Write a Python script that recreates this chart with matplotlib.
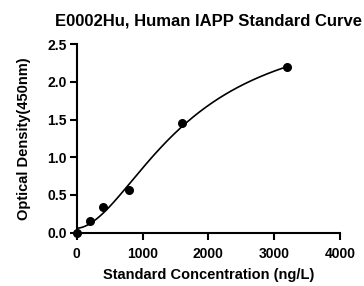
import numpy as np
import matplotlib.pyplot as plt

plt.rcParams['font.family'] = ['Liberation Sans', 'DejaVu Sans']
plt.rcParams['font.weight'] = 'bold'

# standard points
conc = np.array([0, 200, 400, 800, 1600, 3200])
od = np.array([0.00, 0.155, 0.336, 0.56, 1.45, 2.19])

# 4PL fit: grid over B and C, A/D by linear least squares
best = None
for B in np.linspace(1.0, 4.0, 121):
    for C in np.linspace(500, 5000, 181):
        g = 1.0 / (1.0 + (conc / C) ** B)
        M = np.column_stack([g, 1 - g])
        coef, *_ = np.linalg.lstsq(M, od, rcond=None)
        err = np.sum((M @ coef - od) ** 2)
        if best is None or err < best[0]:
            best = (err, B, C, coef[0], coef[1])
_, B, C, A, D = best
xs = np.linspace(0, 3200, 300)
ys = D + (A - D) / (1 + (xs / C) ** B)

fig = plt.figure(figsize=(3.64, 2.86), dpi=100)
ax = fig.add_axes([0.2107, 0.1864, 0.7233, 0.6596])
ax.plot(xs, ys, color='black', lw=1.2)
ax.scatter(conc, od, s=30, color='black', zorder=3, clip_on=False)

ax.set_xlim(0, 4000)
ax.set_ylim(0, 2.5)
ax.set_xticks([0, 1000, 2000, 3000, 4000])
ax.set_yticks([0.0, 0.5, 1.0, 1.5, 2.0, 2.5])
ax.set_yticklabels(['0.0', '0.5', '1.0', '1.5', '2.0', '2.5'])
for s in ['top', 'right']:
    ax.spines[s].set_visible(False)
for s in ['left', 'bottom']:
    ax.spines[s].set_linewidth(1.5)
ax.tick_params(width=1.5, length=5, labelsize=10, pad=2)
ax.tick_params(axis='x', pad=5)

ax.set_xlabel('Standard Concentration (ng/L)', fontsize=10.5, fontweight='bold', labelpad=5)
ax.set_ylabel('Optical Density(450nm)', fontsize=10.5, fontweight='bold', labelpad=12)
ax.set_title('E0002Hu, Human IAPP Standard Curve', fontsize=12, fontweight='bold', pad=13)

fig.savefig('out.png', dpi=100)
